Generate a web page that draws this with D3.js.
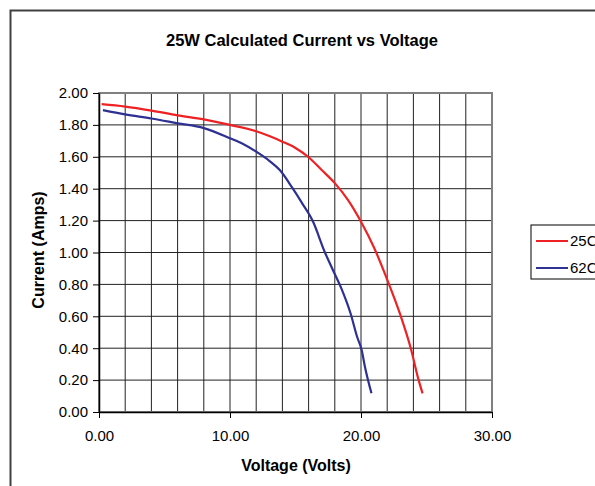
<!DOCTYPE html>
<html>
<head>
  <script src="https://d3js.org/d3.v7.min.js"></script>
<style>
  body { margin: 0; background: #fff; }
  text { font-family: 'Liberation Sans', Arial, sans-serif; fill: #000; }
</style>
</head>
<body>
  <div id="chart"></div>

  <script>
    'use strict';

    // 25C curve
    var volts25 = [0.2, 2, 4, 6, 8, 10, 12, 13, 14, 15, 16, 17, 18, 19, 20, 21, 22, 23, 23.8, 24.4, 24.7];
    var amps25  = [1.93, 1.915, 1.89, 1.86, 1.835, 1.80, 1.76, 1.73, 1.695, 1.655, 1.597, 1.517, 1.435, 1.33, 1.193, 1.03, 0.83, 0.61, 0.40, 0.20, 0.117];

    // 62C curve
    var volts62 = [0.3, 2, 4, 6, 8, 10, 11, 12, 13, 13.8, 14.8, 15.5, 16.3, 17.25, 17.8, 18.5, 19.2, 19.7, 20.05, 20.3, 20.8];
    var amps62  = [1.893, 1.866, 1.84, 1.81, 1.78, 1.716, 1.68, 1.632, 1.575, 1.517, 1.40, 1.31, 1.20, 1.00, 0.90, 0.775, 0.619, 0.472, 0.389, 0.284, 0.117];

    var seriesNames = ["25C", "62C"];
    var seriesColors = ["#ee2224", "#2e3192"];
    var xTicks = [0, 10, 20, 30];
    var yTicks = [0, 0.2, 0.4, 0.6, 0.8, 1.0, 1.2, 1.4, 1.6, 1.8, 2.0];

    var width = 595, height = 486;
    var font = "'Liberation Sans', Arial, sans-serif";
    var svg = d3.select("#chart").append("svg").attr("width", width).attr("height", height);

    // outer chart frame (runs off the right and bottom)
    svg.append("rect")
      .attr("x", 10.5).attr("y", 10.5).attr("width", 700).attr("height", 600)
      .attr("fill", "none").attr("stroke", "#404040").attr("stroke-width", 2);

    var x = d3.scaleLinear().domain([0, 30]).range([99, 492]);
    var y = d3.scaleLinear().domain([0, 2]).range([412, 93]);

    var g = svg.append("g");

    // grid
    g.selectAll(".vgrid").data(d3.range(2, 30, 2)).enter().append("line")
      .attr("x1", function(d){ return x(d); }).attr("x2", function(d){ return x(d); })
      .attr("y1", y(0)).attr("y2", y(2))
      .attr("stroke", "#222").attr("stroke-width", 1);
    g.selectAll(".hgrid").data(yTicks.slice(1, -1)).enter().append("line")
      .attr("x1", x(0)).attr("x2", x(30))
      .attr("y1", function(d){ return y(d); }).attr("y2", function(d){ return y(d); })
      .attr("stroke", "#222").attr("stroke-width", 1);

    // plot border
    g.append("rect")
      .attr("x", x(0)).attr("y", y(2)).attr("width", x(30) - x(0)).attr("height", y(0) - y(2))
      .attr("fill", "none").attr("stroke", "#808080").attr("stroke-width", 2);

    // axes
    var xAxis = g.append("g").attr("transform", "translate(0," + y(0) + ")")
      .call(d3.axisBottom(x).tickValues(xTicks).tickSize(6).tickSizeOuter(0)
        .tickFormat(function(d){ return d.toFixed(2); }));
    var yAxis = g.append("g").attr("transform", "translate(" + x(0) + ",0)")
      .call(d3.axisLeft(y).tickValues(yTicks).tickSize(6).tickSizeOuter(0)
        .tickFormat(function(d){ return d.toFixed(2); }));
    [xAxis, yAxis].forEach(function(a){
      a.select(".domain").attr("stroke", "#000").attr("stroke-width", 1.5);
      a.selectAll(".tick line").attr("stroke", "#000");
      a.selectAll(".tick text").attr("font-family", font)
        .attr("font-size", 15).attr("fill", "#000");
    });
    xAxis.selectAll(".tick text").attr("y", 29).attr("dy", 0);
    yAxis.selectAll(".tick text").attr("x", -11);

    // curves
    var line = d3.line()
      .curve(d3.curveMonotoneX)
      .x(function(d){ return x(d[0]); })
      .y(function(d){ return y(d[1]); });

    var data = [d3.zip(volts25, amps25), d3.zip(volts62, amps62)];
    g.selectAll(".curve").data(data).enter().append("path")
      .attr("d", line)
      .attr("fill", "none")
      .attr("stroke", function(d, i){ return seriesColors[i]; })
      .attr("stroke-width", 2.2);

    // titles
    svg.append("text").attr("x", 302).attr("y", 46).attr("text-anchor", "middle")
      .attr("font-size", 16.5).attr("font-weight", "bold")
      .text("25W Calculated Current vs Voltage");
    svg.append("text").attr("x", 296).attr("y", 471).attr("text-anchor", "middle")
      .attr("font-size", 16).attr("font-weight", "bold")
      .text("Voltage (Volts)");
    svg.append("text").attr("transform", "translate(44,250) rotate(-90)").attr("text-anchor", "middle")
      .attr("font-size", 16).attr("font-weight", "bold")
      .text("Current (Amps)");

    // legend
    var lg = svg.append("g");
    lg.append("rect").attr("x", 531).attr("y", 225).attr("width", 100).attr("height", 54)
      .attr("fill", "#fff").attr("stroke", "#000").attr("stroke-width", 1);
    seriesNames.forEach(function(name, i){
      var ly = 241 + i * 27;
      lg.append("line").attr("x1", 536).attr("x2", 568).attr("y1", ly).attr("y2", ly)
        .attr("stroke", seriesColors[i]).attr("stroke-width", 2);
      lg.append("text").attr("x", 570).attr("y", ly + 5).attr("font-size", 15).text(name);
    });
  </script>
</body>
</html>
